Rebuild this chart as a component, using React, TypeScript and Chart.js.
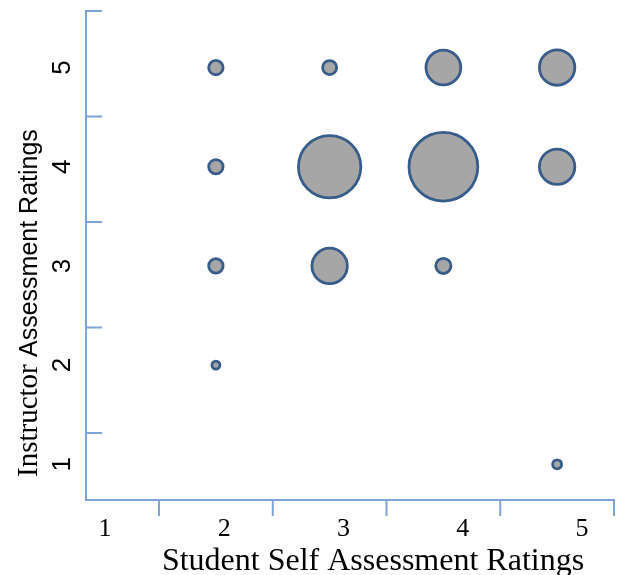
import { useEffect, useRef } from "react";
import { Chart, registerables } from "chart.js";

Chart.register(...registerables);

// ---- data ----
const studentRatings = [2, 3, 4, 5, 2, 3, 4, 5, 2, 3, 4, 2, 5];
const instructorRatings = [5, 5, 5, 5, 4, 4, 4, 4, 3, 3, 3, 2, 1];
const bubbleRadii = [7.2, 7.0, 17.4, 17.7, 7.2, 31.2, 34.4, 17.7, 7.2, 17.7, 7.6, 4.0, 4.5];

const tickValues = [1, 2, 3, 4, 5];
const tickLabels = ["1", "2", "3", "4", "5"];
const tickMarkValues = [1.5, 2.5, 3.5, 4.5, 5.5];

const xTitle = "Student Self Assessment Ratings";
const yTitleSerif = "Instructor ";
const yTitleSans = "Assessment Ratings";

const axisColor = "#7EA4D6";
const bubbleFill = "#A6A6A6";
const bubbleBorder = "#385D8A";

const decorations = {
  id: "decorations",
  afterDraw(chart: any) {
    const { ctx, chartArea } = chart;
    const xs = chart.scales.x;
    const ys = chart.scales.yt;
    ctx.save();
    ctx.strokeStyle = axisColor;
    ctx.lineWidth = 2;
    ctx.beginPath();
    for (const v of tickMarkValues) {
      const px = xs.getPixelForValue(v);
      ctx.moveTo(px, chartArea.bottom);
      ctx.lineTo(px, chartArea.bottom + 16);
      const py = ys.getPixelForValue(v);
      ctx.moveTo(chartArea.left, py);
      ctx.lineTo(chartArea.left + 16, py);
    }
    ctx.stroke();

    ctx.fillStyle = "#000";
    ctx.textBaseline = "alphabetic";
    // x title
    ctx.font = '32px "Liberation Serif"';
    ctx.textAlign = "center";
    ctx.fillText(xTitle, chartArea.left + 287, chartArea.bottom + 70);

    // y title (two fonts, as in the source)
    ctx.translate(chartArea.left - 49, chartArea.bottom - 23);
    ctx.rotate(-Math.PI / 2);
    ctx.textAlign = "left";
    ctx.font = '29px "Liberation Serif"';
    ctx.fillText(yTitleSerif, 0, 0);
    const w = ctx.measureText(yTitleSerif).width;
    ctx.font = '25px "Liberation Sans"';
    ctx.fillText(yTitleSans, w, 0);
    ctx.restore();
  },
};

export default function App() {
  const ref = useRef<HTMLCanvasElement>(null);

  useEffect(() => {
    if (!ref.current) return;
    const points = studentRatings.map((x, i) => ({
      x,
      y: instructorRatings[i],
      r: bubbleRadii[i],
    }));
    const chart = new Chart(ref.current, {
      type: "bubble",
      data: {
        datasets: [
          {
            data: points,
            backgroundColor: bubbleFill,
            borderColor: bubbleBorder,
            borderWidth: 2.8,
            xAxisID: "x",
            yAxisID: "y",
          },
        ],
      },
      options: {
        animation: false,
        responsive: false,
        events: [],
        layout: { autoPadding: false, padding: { top: 11, right: 3, left: 0, bottom: 0 } },
        plugins: { legend: { display: false }, tooltip: { enabled: false } },
        scales: {
          x: { type: "linear", display: false, min: 0.858, max: 5.5 },
          yt: { type: "linear", display: false, position: "left", min: 0.864, max: 5.5 },
          xl: {
            type: "linear",
            position: "bottom",
            min: 0.841,
            max: 5.268,
            afterBuildTicks: (s: any) => {
              s.ticks = tickValues.map((v) => ({ value: v }));
            },
            afterFit: (s: any) => {
              s.height = 75;
              s.paddingLeft = 0;
              s.paddingRight = 0;
            },
            ticks: {
              autoSkip: false,
              maxRotation: 0,
              padding: 14,
              color: "#000",
              font: { family: "Liberation Serif", size: 26 },
              callback: (_v: any, i: number) => tickLabels[i],
            },
            grid: { display: false, drawTicks: false },
            border: { display: true, color: axisColor, width: 2 },
          },
          y: {
            type: "linear",
            position: "left",
            min: 0.64,
            max: 5.57,
            afterBuildTicks: (s: any) => {
              s.ticks = tickValues.map((v) => ({ value: v }));
            },
            afterFit: (s: any) => {
              s.width = 86;
              s.paddingTop = 0;
              s.paddingBottom = 0;
            },
            ticks: {
              autoSkip: false,
              minRotation: 90,
              maxRotation: 90,
              crossAlign: "center",
              padding: 16,
              color: "#000",
              font: { family: "Liberation Sans", size: 26 },
              callback: (_v: any, i: number) => tickLabels[i],
            },
            grid: { display: false, drawTicks: false },
            border: { display: true, color: axisColor, width: 2 },
          },
        },
      } as any,
      plugins: [decorations],
    });
    return () => chart.destroy();
  }, []);

  return (
    <div style={{ position: "absolute", left: 0, top: 0, width: 617, height: 575, background: "#fff" }}>
      <canvas ref={ref} width={617} height={575} />
    </div>
  );
}
